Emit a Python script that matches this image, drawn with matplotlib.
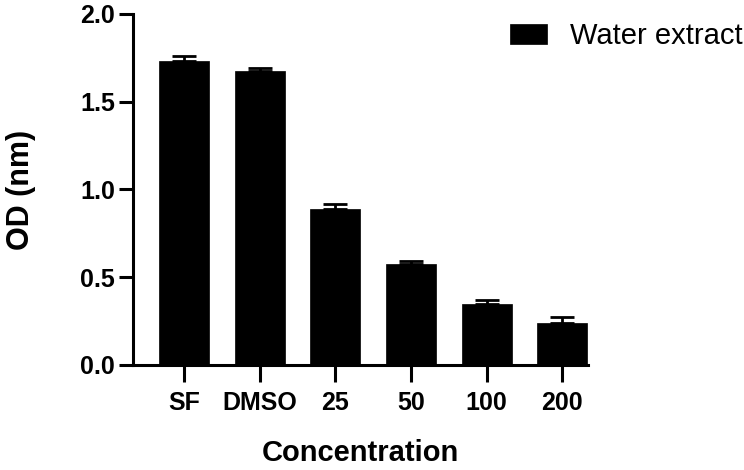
import numpy as np
import matplotlib.pyplot as plt

plt.rcParams['font.family'] = ['Liberation Sans', 'DejaVu Sans']

categories = ['SF', 'DMSO', '25', '50', '100', '200']
od_mean = [1.732, 1.677, 0.887, 0.575, 0.346, 0.241]
od_err = [0.029, 0.017, 0.029, 0.016, 0.025, 0.031]
y_ticks = [0.0, 0.5, 1.0, 1.5, 2.0]


def main():
    fig = plt.figure(figsize=(7.44, 4.70), dpi=100)
    ax = fig.add_axes([133 / 744, 1 - 365 / 470, 455 / 744, 351 / 470])

    x = np.arange(len(categories))
    ax.bar(x, od_mean, width=0.66, color='black', edgecolor='black',
           linewidth=0.5, label='Water extract', zorder=2)
    ax.errorbar(x, od_mean, yerr=[np.zeros(len(od_err)), od_err],
                fmt='none', ecolor='black', elinewidth=2, capsize=8.6,
                capthick=2, zorder=1)

    ax.set_xlim(-0.675, 5.34)
    ax.set_ylim(0, 2.0)
    ax.set_yticks(y_ticks)
    ax.set_yticklabels([f"{v:.1f}" for v in y_ticks])
    ax.set_xticks(x)
    ax.set_xticklabels(categories)

    for s in ['top', 'right']:
        ax.spines[s].set_visible(False)
    for s in ['left', 'bottom']:
        ax.spines[s].set_linewidth(2.2)

    ax.tick_params(axis='y', length=10, width=2.2, labelsize=18, pad=3)
    ax.tick_params(axis='x', length=12, width=2.2, labelsize=18, pad=7)
    for lbl in ax.get_xticklabels() + ax.get_yticklabels():
        lbl.set_fontweight('bold')

    ax.set_xlabel('Concentration', fontsize=21, fontweight='bold', labelpad=17)
    ax.set_ylabel('OD (nm)', fontsize=22, fontweight='bold', labelpad=32)

    ax.legend(loc='upper left', bbox_to_anchor=(510 / 744, 1 - 22 / 470),
              bbox_transform=fig.transFigure, frameon=False, fontsize=21,
              borderpad=0, borderaxespad=0,
              handlelength=1.27, handleheight=0.69, handletextpad=0.79)

    fig.savefig('out.png', dpi=100)


if __name__ == "__main__":
    main()
